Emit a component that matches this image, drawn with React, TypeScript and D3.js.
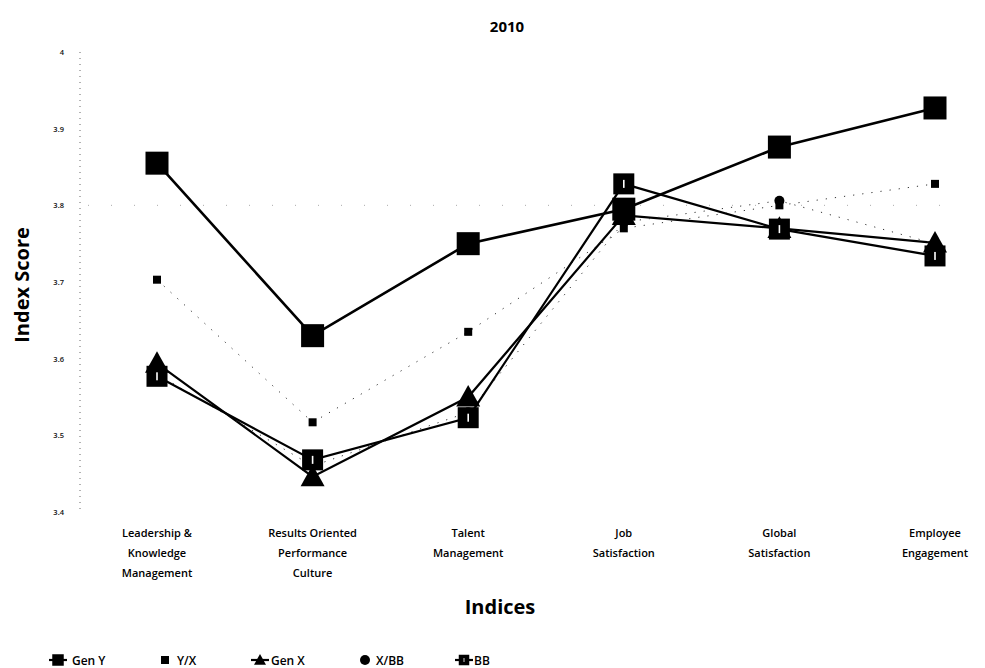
import React from "react";
import * as d3 from "d3";

const categories = [
  "Leadership & Knowledge Management",
  "Results Oriented Performance Culture",
  "Talent Management",
  "Job Satisfaction",
  "Global Satisfaction",
  "Employee Engagement",
];
const categoryLines = [
  ["Leadership &", "Knowledge", "Management"],
  ["Results Oriented", "Performance", "Culture"],
  ["Talent", "Management"],
  ["Job", "Satisfaction"],
  ["Global", "Satisfaction"],
  ["Employee", "Engagement"],
];

const genY = [3.855, 3.63, 3.75, 3.795, 3.876, 3.927];
const yx = [3.703, 3.517, 3.635, 3.77, 3.8, 3.828];
const genX = [3.594, 3.446, 3.55, 3.787, 3.77, 3.751];
const xbb = [3.58, 3.46, 3.53, 3.778, 3.806, 3.75];
const bb = [3.577, 3.468, 3.523, 3.828, 3.769, 3.734];

const yTicks = [3.4, 3.5, 3.6, 3.7, 3.8, 3.9, 4.0];
const yTickLabels = ["3.4", "3.5", "3.6", "3.7", "3.8", "3.9", "4"];

type Marker = "bigSquare" | "smallSquare" | "triangle" | "circle" | "hollowSquare";
const series: { name: string; values: number[]; marker: Marker; dotted: boolean; width: number }[] = [
  { name: "Gen Y", values: genY, marker: "bigSquare", dotted: false, width: 2.6 },
  { name: "Y/X", values: yx, marker: "smallSquare", dotted: true, width: 1 },
  { name: "Gen X", values: genX, marker: "triangle", dotted: false, width: 2.2 },
  { name: "X/BB", values: xbb, marker: "circle", dotted: true, width: 1 },
  { name: "BB", values: bb, marker: "hollowSquare", dotted: false, width: 2.2 },
];

const W = 985;
const H = 668;
const FONT = "'Open Sans', 'DejaVu Sans', sans-serif";

function MarkerShape({ kind, x, y, scale = 1 }: { kind: Marker; x: number; y: number; scale?: number }) {
  const s = scale;
  if (kind === "bigSquare") {
    const r = 11.5 * s;
    return <rect x={x - r} y={y - r} width={2 * r} height={2 * r} fill="#000" />;
  }
  if (kind === "smallSquare") {
    const r = 4 * s;
    return <rect x={x - r} y={y - r} width={2 * r} height={2 * r} fill="#000" />;
  }
  if (kind === "triangle") {
    const r = 12 * s;
    const p = d3.path();
    p.moveTo(x, y - r);
    p.lineTo(x + r, y + r * 0.8);
    p.lineTo(x - r, y + r * 0.8);
    p.closePath();
    return <path d={p.toString()} fill="#000" />;
  }
  if (kind === "circle") {
    return <circle cx={x} cy={y} r={5 * s} fill="#000" />;
  }
  const r = 10.5 * s;
  return (
    <g>
      <rect x={x - r} y={y - r} width={2 * r} height={2 * r} fill="#000" />
      <rect x={x - 0.8 * s} y={y - 4 * s} width={1.6 * s} height={8 * s} fill="#fff" />
    </g>
  );
}

export default function App() {
  const x = d3.scalePoint<string>().domain(categories).range([157, 935]);
  const y = d3.scaleLinear().domain([3.4, 4.0]).range([512, 52]);
  const line = d3
    .line<number>()
    .x((_, i) => x(categories[i]) as number)
    .y((v) => y(v));

  const legendItems = [
    { x: 58, textX: 72 },
    { x: 165, textX: 177 },
    { x: 260, textX: 271 },
    { x: 365, textX: 376 },
    { x: 464, textX: 474 },
  ];

  return (
    <svg width={W} height={H} style={{ position: "absolute", left: 0, top: 0, background: "#fff" }}>
      <rect width={W} height={H} fill="#fff" />
      <text x={507} y={32} textAnchor="middle" fontFamily={FONT} fontWeight="bold" fontSize={15}>
        2010
      </text>

      {/* value axis */}
      <line x1={80} x2={80} y1={y(4.0)} y2={y(3.4)} stroke="#666" strokeWidth={1} strokeDasharray="1 5" />
      {yTicks.map((t, i) => (
        <text
          key={t}
          x={64}
          y={y(t) + 3}
          textAnchor="end"
          fontFamily={FONT}
          fontSize={7.5}
          fontWeight={600}
          fill="#111"
        >
          {yTickLabels[i]}
        </text>
      ))}
      <line x1={88} x2={960} y1={y(3.8)} y2={y(3.8)} stroke="#aaa" strokeWidth={1} strokeDasharray="1 22" />

      <text
        transform={`translate(29,285) rotate(-90)`}
        textAnchor="middle"
        fontFamily={FONT}
        fontWeight="bold"
        fontSize={20}
      >
        Index Score
      </text>

      {/* series lines */}
      {series.map((s) => (
        <path
          key={s.name}
          d={line(s.values) as string}
          fill="none"
          stroke={s.dotted ? "#333" : "#000"}
          strokeWidth={s.width}
          strokeDasharray={s.dotted ? "1.2 8" : undefined}
        />
      ))}
      {/* series markers */}
      {series.map((s) => (
        <g key={s.name + "-m"}>
          {s.values.map((v, i) => (
            <MarkerShape key={i} kind={s.marker} x={x(categories[i]) as number} y={y(v)} />
          ))}
        </g>
      ))}

      {/* category labels */}
      {categoryLines.map((lines, i) => (
        <text
          key={i}
          x={x(categories[i]) as number}
          y={537}
          textAnchor="middle"
          fontFamily={FONT}
          fontSize={11}
          fontWeight={600}
          fill="#000"
        >
          {lines.map((l, j) => (
            <tspan key={j} x={x(categories[i]) as number} dy={j === 0 ? 0 : 20}>
              {l}
            </tspan>
          ))}
        </text>
      ))}

      <text x={500} y={614} textAnchor="middle" fontFamily={FONT} fontWeight="bold" fontSize={20}>
        Indices
      </text>

      {/* legend */}
      {series.map((s, i) => {
        const it = legendItems[i];
        return (
          <g key={s.name + "-lg"}>
            {!s.dotted && (
              <line x1={it.x - 9} x2={it.x + 9} y1={660} y2={660} stroke="#000" strokeWidth={2.2} />
            )}
            <MarkerShape kind={s.marker} x={it.x} y={660} scale={s.dotted ? 1 : 0.5} />
            <text x={it.textX} y={665} fontFamily={FONT} fontSize={12} fontWeight={600}>
              {s.name}
            </text>
          </g>
        );
      })}
    </svg>
  );
}
